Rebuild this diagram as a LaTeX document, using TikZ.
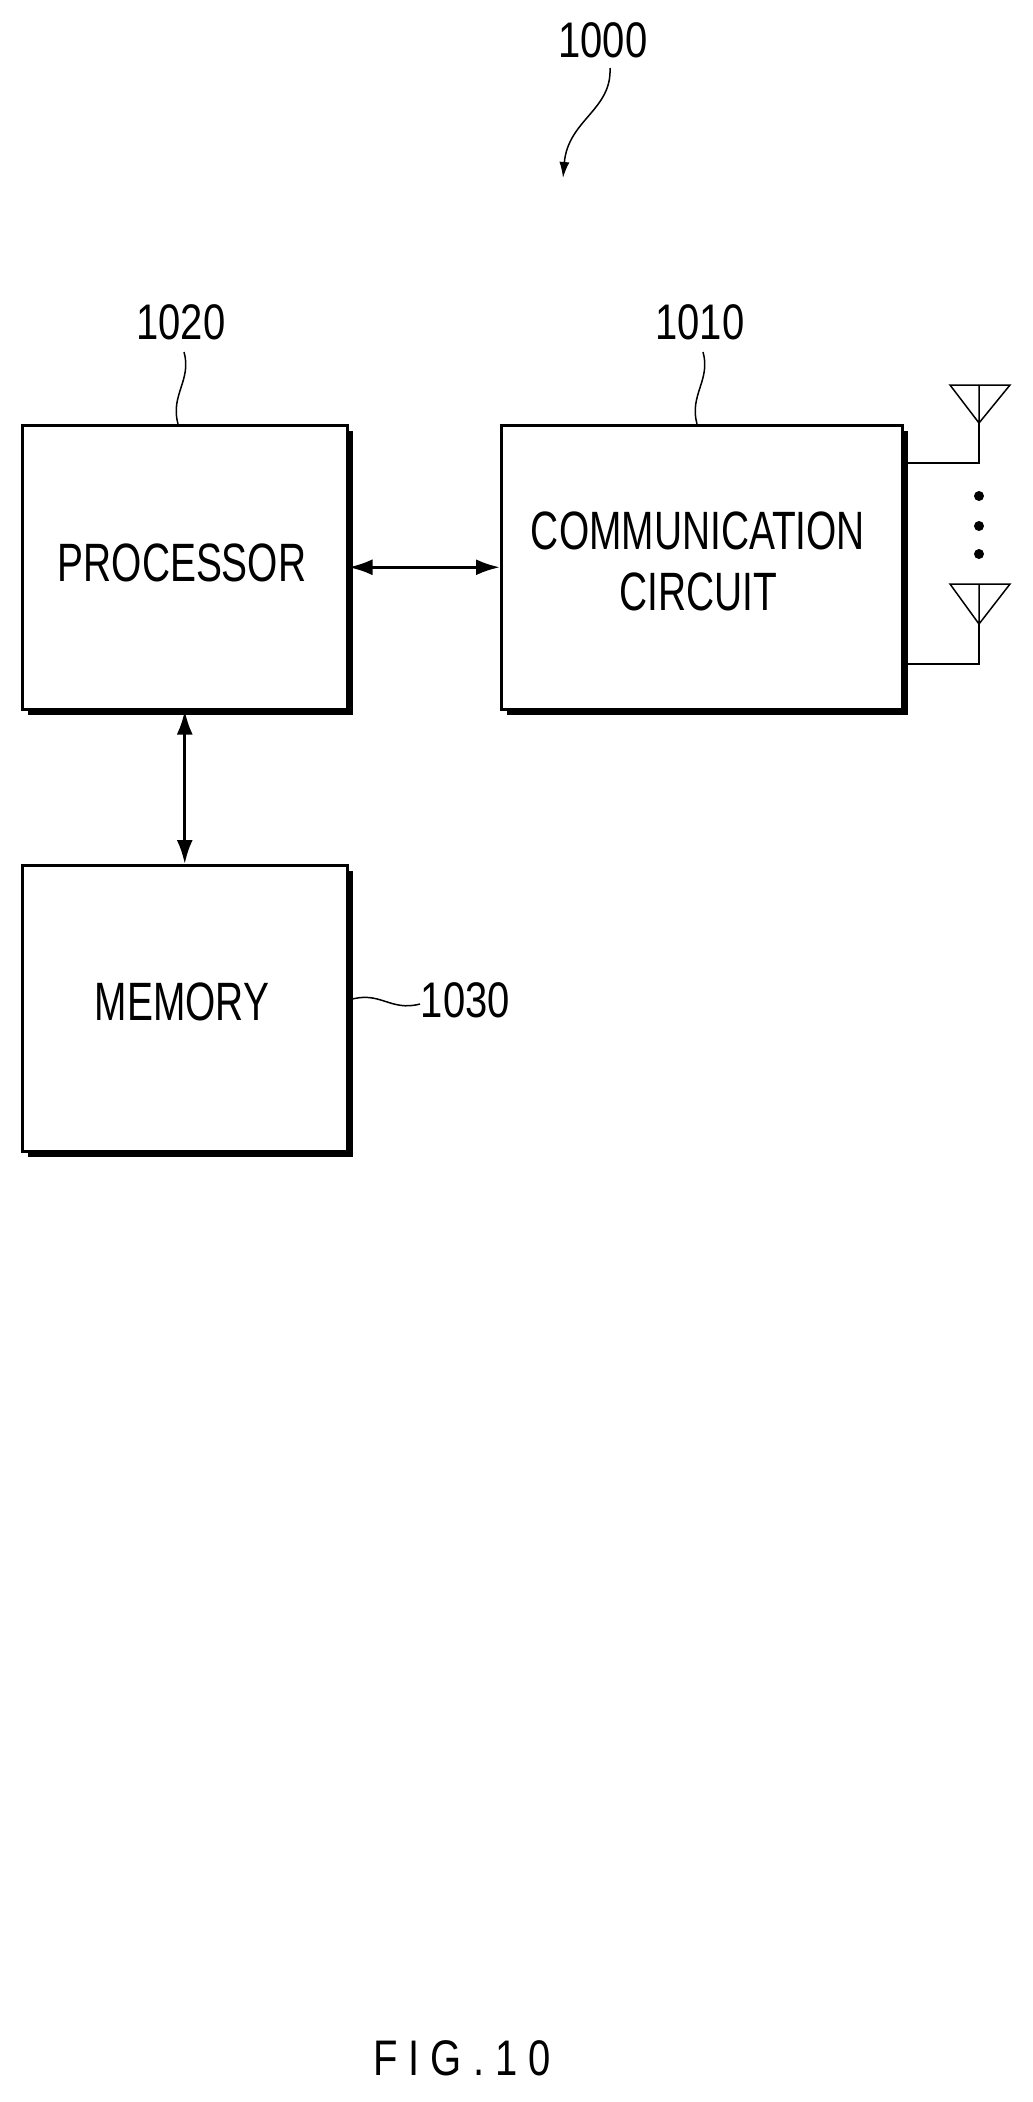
\documentclass[tikz,border=0pt]{standalone}
\usepackage{fontspec}
\setmainfont{Liberation Sans}
\usetikzlibrary{arrows.meta}
\begin{document}
\begin{tikzpicture}[x=1pt,y=-1pt,
  box/.style={draw,line width=2.5pt,fill=white},
  lab/.style={font=\fontsize{50}{60}\selectfont,xscale=0.8},
  txt/.style={font=\fontsize{54}{70}\selectfont,xscale=0.72},
  conn/.style={line width=3pt,{Latex[length=24pt,width=16pt]}-{Latex[length=24pt,width=16pt]}},
  thin/.style={line width=1.5pt}]
\useasboundingbox (0,0) rectangle (1033,2102);
% shadows
\fill (28,431) rectangle (353,715);
\fill (507,431) rectangle (908,715);
\fill (28,871) rectangle (353,1157);
\node[box,minimum width=325pt,minimum height=284pt,anchor=north west] (p) at (21,424) {};
\node[box,minimum width=401pt,minimum height=284pt,anchor=north west] (c) at (500,424) {};
\node[box,minimum width=325pt,minimum height=286pt,anchor=north west] (m) at (21,864) {};
\node[txt] at (182,563) {PROCESSOR};
\node[txt] at (698,531) {COMMUNICATION};
\node[txt] at (698,592) {CIRCUIT};
\node[txt] at (182,1002) {MEMORY};
\draw[conn] (p.east) -- (c.west);
\draw[conn] (p.south) -- (m.north);
% antennas
\coordinate (a1) at (979,463);
\coordinate (a2) at (979,664);
\draw[thin] (901,463) -- (a1) -- (979,423);
\draw[thin] (950,385) -- (1010,385) -- (979,423) -- cycle (979,385) -- (979,423);
\draw[thin] (901,664) -- (a2) -- (979,624);
\draw[thin] (950,584) -- (1010,584) -- (979,624) -- cycle (979,584) -- (979,624);
\foreach \y in {496,526,554} \fill (979,\y) circle (5pt);
% labels
\node[lab] (l1020) at (181,322) {1020};
\node[lab] (l1010) at (700,322) {1010};
\node[lab,anchor=west] (l1030) at (418,1000) {1030};
\node[lab] (l1000) at (603,40) {1000};
\draw[thin] (184,352) .. controls (192,380) and (170,395) .. (178,424);
\draw[thin] (703,352) .. controls (711,380) and (689,395) .. (697,424);
\draw[thin] (349,1000) .. controls (380,990) and (390,1012) .. (420,1004);
\draw[thin,-{Latex[length=16pt,width=10pt]}] (610,68) .. controls (612,110) and (568,120) .. (563,178);
\node[font=\fontsize{50}{60}\selectfont,xscale=0.8] (fig) at (462,2058) {F I G . 1 0};
\end{tikzpicture}
\end{document}
